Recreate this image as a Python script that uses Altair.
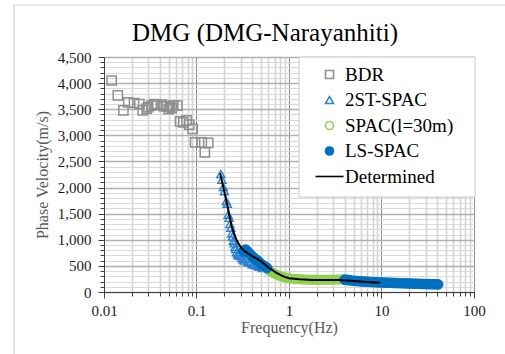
import altair as alt
import pandas as pd

# ---- phase-velocity dispersion data (frequency in Hz, velocity in m/s) ----
bdr_f = [0.0121, 0.0141, 0.0162, 0.0183, 0.0211, 0.0241, 0.0262, 0.0289, 0.030, 0.0328,
         0.035, 0.0371, 0.042, 0.044, 0.0476, 0.050, 0.0517, 0.054, 0.056, 0.062,
         0.0663, 0.072, 0.078, 0.0835, 0.091, 0.0965, 0.114, 0.123, 0.134]
bdr_v = [4050, 3765, 3478, 3631, 3619, 3600, 3478, 3510, 3540, 3568,
         3600, 3587, 3587, 3560, 3554, 3500, 3543, 3520, 3568, 3568,
         3267, 3248, 3287, 3204, 3122, 2866, 2866, 2674, 2854]

st2_f = [0.183, 0.188, 0.195, 0.200, 0.210, 0.215, 0.220, 0.225, 0.230, 0.235, 0.240,
         0.245, 0.250, 0.255, 0.260, 0.265, 0.270, 0.278, 0.285, 0.290, 0.300, 0.310,
         0.320, 0.330, 0.345, 0.360, 0.380, 0.400, 0.420, 0.450, 0.480, 0.520]
st2_v = [2260, 2150, 2010, 1930, 1740, 1690, 1480, 1420, 1300, 1230, 1120,
         1060, 980, 930, 860, 820, 760, 720, 700, 740, 690, 650,
         620, 600, 640, 580, 560, 530, 520, 500, 480, 460]

spac_f = [0.55, 0.58, 0.61, 0.64, 0.68, 0.72, 0.76, 0.80, 0.85, 0.90, 0.95, 1.00,
          1.07, 1.15, 1.23, 1.32, 1.42, 1.52, 1.63, 1.75, 1.88, 2.00, 2.15, 2.30,
          2.50, 2.70, 2.90, 3.10, 3.35, 3.60, 3.90, 4.20]
spac_v = [470, 440, 410, 385, 360, 340, 320, 305, 290, 280, 270, 262,
          255, 250, 246, 243, 240, 238, 237, 236, 235, 235, 234, 234,
          235, 235, 236, 237, 238, 240, 241, 242]

ls_f = [0.32, 0.33, 0.34, 0.35, 0.36, 0.37, 0.38, 0.39, 0.40, 0.42, 0.44, 0.46,
        0.48, 0.50, 0.52, 0.55, 0.58,
        4.0, 4.3, 4.6, 5.0, 5.4, 5.8, 6.2, 6.7, 7.2, 7.8, 8.4, 9.0, 9.7, 10.5,
        11.3, 12.2, 13.1, 14.1, 15.2, 16.4, 17.7, 19.1, 20.6, 22.2, 24.0, 25.8,
        27.8, 30.0, 32.4, 35.0, 37.7, 41.0]
ls_v = [780, 800, 810, 790, 760, 740, 720, 700, 680, 650, 620, 600,
        570, 540, 510, 490, 460,
        235, 228, 222, 215, 210, 205, 200, 198, 195, 190, 188, 185, 182, 180,
        178, 176, 174, 172, 170, 168, 166, 164, 162, 160, 158, 156,
        154, 152, 150, 149, 147, 145]

det_f = [0.18, 0.20, 0.22, 0.24, 0.27, 0.30, 0.32, 0.36, 0.42, 0.45, 0.53, 0.60,
         0.74, 0.87, 1.0, 1.3, 1.8, 2.5, 3.5, 5.0, 7.0, 9.6]
det_v = [2280, 1920, 1580, 1250, 1000, 860, 805, 740, 665, 640, 550, 470,
         360, 300, 265, 242, 230, 228, 230, 212, 190, 175]

series_names = ["BDR", "2ST-SPAC", "SPAC(l=30m)", "LS-SPAC", "Determined"]
stroke_colors = ["#8f8f8f", "#2e7fd0", "#92d050", "#0070c0", "#000000"]
fill_colors = ["transparent", "transparent", "transparent", "#0070c0", "transparent"]
shapes = ["square", "triangle-up", "circle", "circle", "M-3.5,0H3.5"]

chart_title = "DMG (DMG-Narayanhiti)"

# axis tick positions
x_ticks = sorted({round(m * 10 ** e, 6) for e in range(-2, 2) for m in range(1, 10)} | {100})
y_ticks = list(range(0, 4501, 100))

FONT = "Liberation Serif"
DECADE = "abs(log(datum.value)/LN10 - round(log(datum.value)/LN10)) < 1e-6"


def frame(fs, vs, name):
    return pd.DataFrame({"freq": fs, "vel": vs, "series": name})


data = pd.concat([
    frame(bdr_f, bdr_v, series_names[0]),
    frame(st2_f, st2_v, series_names[1]),
    frame(spac_f, spac_v, series_names[2]),
    frame(ls_f, ls_v, series_names[3]),
    frame(det_f, det_v, series_names[4]),
], ignore_index=True)

x_enc = alt.X(
    "freq:Q",
    scale=alt.Scale(type="log", domain=[0.01, 100], nice=False),
    axis=alt.Axis(
        values=x_ticks,
        title="Frequency(Hz)",
        labelExpr=DECADE + " ? format(datum.value, '~g') : ''",
        labelFont=FONT, labelFontSize=15, labelColor="#1a1a1a",
        titleFont=FONT, titleFontSize=16, titleColor="#595959", titleFontWeight="normal",
        gridColor={"condition": {"test": DECADE, "value": "#8c8c8c"}, "value": "#d3d3d3"},
        gridWidth={"condition": {"test": DECADE, "value": 1}, "value": 1.6},
        tickSize={"condition": {"test": DECADE, "value": 6}, "value": 4},
        labelPadding=5,
        titleX=185, titleY=35, titleBaseline="middle",
    ),
)

y_enc = alt.Y(
    "vel:Q",
    scale=alt.Scale(domain=[0, 4500], nice=False),
    axis=alt.Axis(
        values=y_ticks,
        title="Phase Velocity(m/s)",
        labelExpr="datum.value % 500 === 0 ? format(datum.value, ',') : ''",
        labelFont=FONT, labelFontSize=15, labelColor="#1a1a1a",
        titleFont=FONT, titleFontSize=16, titleColor="#595959", titleFontWeight="normal",
        gridColor={"condition": {"test": "datum.value % 500 === 0", "value": "#b0b0b0"}, "value": "#d9d9d9"},
        gridWidth={"condition": {"test": "datum.value % 500 === 0", "value": 1.3}, "value": 1},
        tickSize={"condition": {"test": "datum.value % 500 === 0", "value": 6}, "value": 4},
        labelPadding=7,
        titleX=-62, titleY=117.5, titleBaseline="middle", titleAngle=270,
    ),
)

legend = alt.Legend(
    orient="none", legendX=216, legendY=8, title=None,
    symbolSize=64, symbolStrokeWidth=1.6, symbolOpacity=1,
    labelFont=FONT, labelFontSize=19, labelColor="#000000",
    labelOffset=6, rowPadding=5.5, padding=0,
)

stroke_enc = alt.Stroke("series:N", scale=alt.Scale(domain=series_names, range=stroke_colors), legend=legend)
fill_enc = alt.Fill("series:N", scale=alt.Scale(domain=series_names, range=fill_colors), legend=legend)
shape_enc = alt.Shape("series:N", scale=alt.Scale(domain=series_names, range=shapes), legend=legend)

base = alt.Chart(data)


def points(name, size, stroke_width, **extra):
    enc = dict(x=x_enc, y=y_enc, stroke=stroke_enc, fill=fill_enc, shape=shape_enc)
    enc.update(extra)
    return base.transform_filter(alt.datum.series == name).mark_point(
        size=size, strokeWidth=stroke_width, opacity=1
    ).encode(**enc)


bdr_layer = points("BDR", 85, 1.5)
st2_layer = points("2ST-SPAC", 65, 1.4)
spac_layer = points("SPAC(l=30m)", 85, 1, fill=alt.value("#92d050"))
ls_layer = points("LS-SPAC", 95, 1)

det_layer = base.transform_filter(alt.datum.series == "Determined").mark_line(
    strokeWidth=2, opacity=1
).encode(x=x_enc, y=y_enc, stroke=stroke_enc, order="freq:Q")

deco = pd.DataFrame({"k": [0]})

# white legend panel in the upper-right corner of the plot
legend_box = alt.Chart(deco).mark_rect(fill="white", stroke="#c8c8c8", strokeWidth=1).encode(
    x=alt.value(195), x2=alt.value(371), y=alt.value(0), y2=alt.value(140)
)

# thin outer frame around the figure
outer = alt.Chart(deco).mark_rect(fill=None, stroke="#d4d4d4", strokeWidth=1.2).encode(
    x=alt.value(-90), x2=alt.value(430), y=alt.value(-52), y2=alt.value(330)
)

# figure heading
heading = alt.Chart(deco).mark_text(
    font=FONT, fontSize=25, color="#000000", align="center", baseline="alphabetic"
).encode(x=alt.value(161), y=alt.value(-16), text=alt.value(chart_title))

chart = alt.layer(
    outer, heading, bdr_layer, st2_layer, spac_layer, ls_layer, det_layer, legend_box
).properties(
    width=370,
    height=235,
    autosize=alt.AutoSizeParams(type="none"),
    padding={"left": 104, "top": 57, "right": 31, "bottom": 62},
    background="white",
).configure_view(
    stroke="#595959", strokeWidth=1
).configure_axis(
    labelFont=FONT, labelFontSize=15, labelColor="#1a1a1a",
    titleFont=FONT, titleFontSize=16, titleColor="#595959", titleFontWeight="normal",
    domainColor="#404040", tickColor="#404040", labelFlush=False, labelOverlap=False,
    grid=True,
).configure_legend(
    labelFont=FONT, labelFontSize=19, labelColor="#000000"
)

chart.save("out.html", embed_options={"renderer": "svg", "actions": False})
